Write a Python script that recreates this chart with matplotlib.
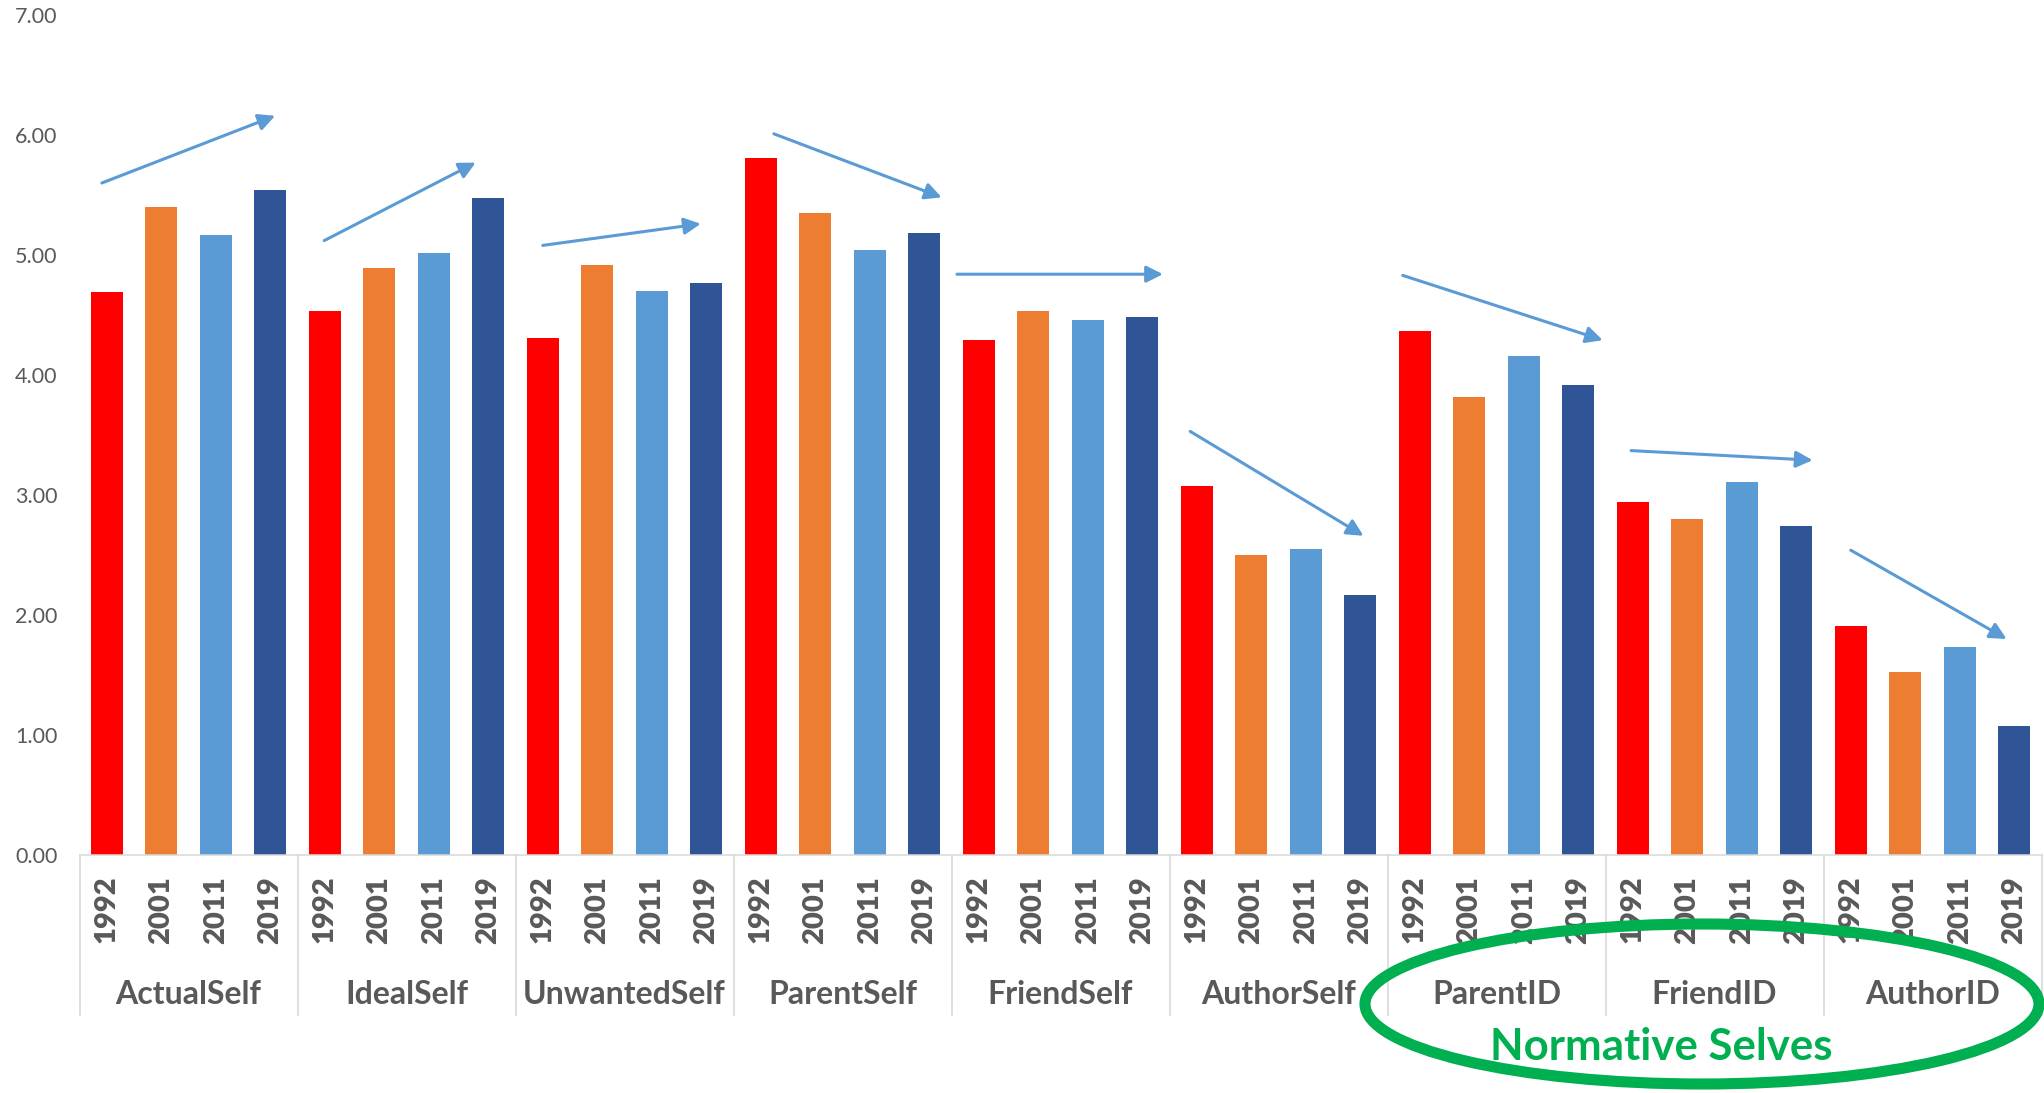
import numpy as np
import matplotlib.pyplot as plt
from matplotlib.patches import Ellipse
from matplotlib.transforms import blended_transform_factory

# Mean ratings per self-construct, one bar per survey wave
groups = ["ActualSelf", "IdealSelf", "UnwantedSelf", "ParentSelf", "FriendSelf",
          "AuthorSelf", "ParentID", "FriendID", "AuthorID"]
years = ["1992", "2001", "2011", "2019"]
v1992 = [4.69, 4.53, 4.31, 5.81, 4.29, 3.075, 4.37, 2.94, 1.91]
v2001 = [5.40, 4.89, 4.92, 5.35, 4.53, 2.50, 3.82, 2.80, 1.525]
v2011 = [5.17, 5.02, 4.70, 5.04, 4.46, 2.55, 4.16, 3.11, 1.73]
v2019 = [5.54, 5.475, 4.77, 5.18, 4.48, 2.17, 3.92, 2.74, 1.075]

year_colors = ["#FF0000", "#ED7D31", "#5B9BD5", "#2F5597"]
text_gray = "#595959"
line_gray = "#D9D9D9"
arrow_blue = "#5B9BD5"
green = "#00B050"

# Trend arrows drawn over each group: (x0, y0, x1, y1) in data units
trend_arrows = [
    (-0.09, 5.60, 3.09, 6.16),
    (3.99, 5.12, 6.77, 5.77),
    (8.00, 5.08, 10.90, 5.26),
    (12.24, 6.01, 15.32, 5.48),
    (15.60, 4.84, 19.38, 4.84),
    (19.88, 3.53, 23.06, 2.66),
    (23.78, 4.83, 27.45, 4.29),
    (27.97, 3.37, 31.30, 3.29),
    (32.00, 2.54, 34.86, 1.80),
]

values = np.array([v1992, v2001, v2011, v2019]).T.ravel()
colors = year_colors * len(groups)
x = np.arange(len(values))

fig = plt.figure(figsize=(20.44, 10.93), dpi=100)
ax = fig.add_axes([79.5 / 2044, 238 / 1093, 1962 / 2044, 840 / 1093])

ax.bar(x, values, width=0.587, color=colors)
ax.set_xlim(-0.5, len(values) - 0.5)
ax.set_ylim(0, 7)

ax.set_yticks(np.arange(0, 8))
ax.set_yticklabels([f"{v:.2f}" for v in range(8)], fontfamily="Lato",
                   fontsize=15.5, color=text_gray)
ax.tick_params(axis="y", length=0, pad=16)

ax.set_xticks(x)
ax.set_xticklabels(years * len(groups), rotation=90, fontfamily="Lato",
                   fontweight="heavy", fontsize=21, color=text_gray)
ax.tick_params(axis="x", length=0, pad=15)

for side in ["left", "right", "top"]:
    ax.spines[side].set_visible(False)
ax.spines["bottom"].set_color(line_gray)
ax.spines["bottom"].set_linewidth(1.1)

# Group separators and group names under the year labels
trans = blended_transform_factory(ax.transData, ax.transAxes)
for g in range(len(groups) + 1):
    ax.plot([4 * g - 0.5] * 2, [0, -0.1905], transform=trans, color=line_gray,
            lw=1.2, clip_on=False)
for g, name in enumerate(groups):
    ax.text(4 * g + 1.5, -0.1774, name, transform=trans, ha="center",
            va="baseline", fontfamily="Lato", fontweight="bold", fontsize=23,
            color=text_gray)

for x0, y0, x1, y1 in trend_arrows:
    ax.annotate("", xy=(x1, y1), xytext=(x0, y0),
                arrowprops=dict(arrowstyle="-|>", color=arrow_blue, lw=2.2,
                                mutation_scale=25, shrinkA=0, shrinkB=0))

# Highlight for the normative selves
fig.patches.append(Ellipse((1702 / 2044, 89 / 1093), 674 / 2044, 160 / 1093,
                           transform=fig.transFigure, fill=False,
                           edgecolor=green, lw=8))
fig.text(1661 / 2044, 33 / 1093, "Normative Selves", ha="center",
         va="baseline", fontfamily="Lato", fontweight="bold", fontsize=31.5,
         color=green)

fig.savefig("out.png", dpi=100)
